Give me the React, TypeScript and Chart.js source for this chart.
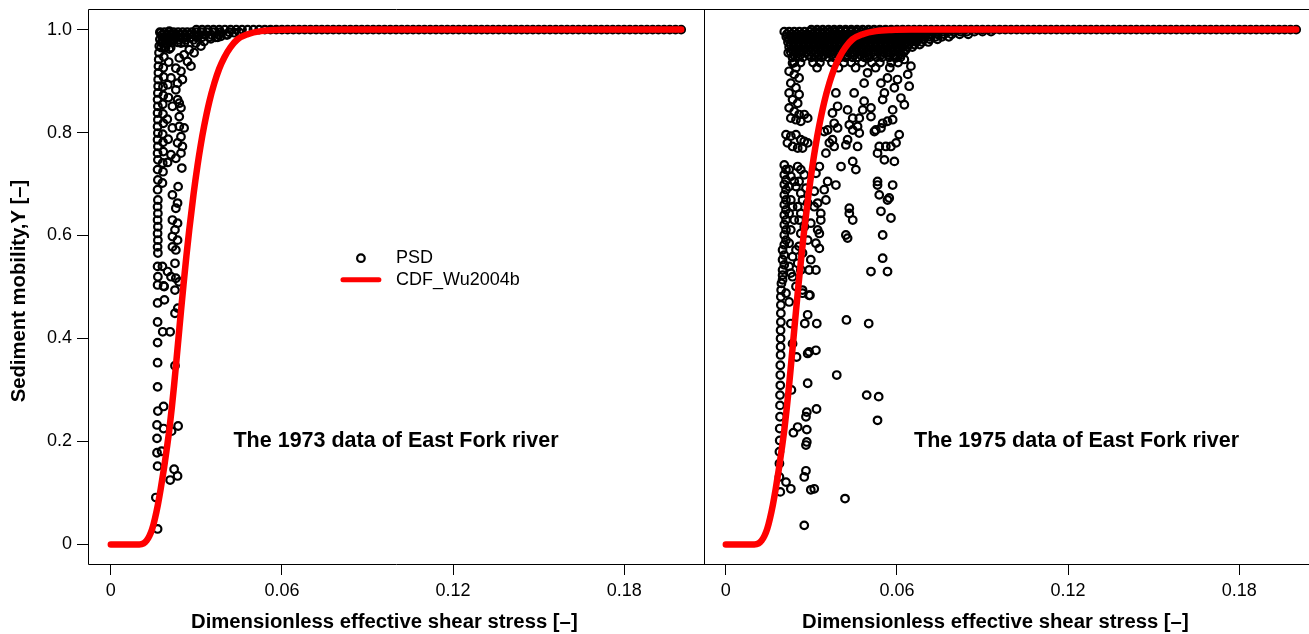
import React, { useEffect, useRef } from "react";
import { Chart, registerables } from "chart.js";

Chart.register(...registerables);

// ---------- axis / text ----------
const X_TICKS = [0, 0.06, 0.12, 0.18];
const Y_TICKS = [0, 0.2, 0.4, 0.6, 0.8, 1.0];
const X_RANGE = [-0.008, 0.208];
const Y_RANGE = [-0.04, 1.04];
const X_TITLE = "Dimensionless effective shear stress [–]";
const Y_TITLE = "Sediment mobility,Y [–]";
const LEGEND_LABELS = ["PSD", "CDF_Wu2004b"];
const PANEL_LABELS = ["The 1973 data of East Fork river", "The 1975 data of East Fork river"];

// ---------- CDF curve (same in both panels) ----------
const cdfX = [0, 0.005, 0.010, 0.0115, 0.0125, 0.0135, 0.0145, 0.0155, 0.0165, 0.0175, 0.0187, 0.0196, 0.0205, 0.0214, 0.0222, 0.0230, 0.0238, 0.0246, 0.0255, 0.0265, 0.0275, 0.0290, 0.0304, 0.0315, 0.0327, 0.0345, 0.0363, 0.0380, 0.0398, 0.0420, 0.0444, 0.0480, 0.0526, 0.0580, 0.0650, 0.0750, 0.0900, 0.1100, 0.1300, 0.1500, 0.1700, 0.1900, 0.2000];
const cdfY = [0, 0, 0, 0.002, 0.007, 0.016, 0.030, 0.051, 0.077, 0.108, 0.150, 0.185, 0.222, 0.266, 0.310, 0.357, 0.405, 0.453, 0.505, 0.560, 0.611, 0.680, 0.736, 0.775, 0.812, 0.859, 0.896, 0.924, 0.946, 0.966, 0.981, 0.991, 0.997, 0.9993, 1, 1, 1, 1, 1, 1, 1, 1, 1];

// ---------- PSD points sitting on Y = 1 (both panels) ----------
const plateauX = [0.030, 0.032, 0.034, 0.036, 0.038, 0.040, 0.042, 0.044, 0.046, 0.048, 0.050, 0.052, 0.054, 0.056, 0.058, 0.060, 0.062, 0.064, 0.066, 0.068, 0.070, 0.072, 0.074, 0.076, 0.078, 0.080, 0.082, 0.084, 0.086, 0.088, 0.090, 0.092, 0.094, 0.096, 0.098, 0.100, 0.102, 0.104, 0.106, 0.108, 0.110, 0.112, 0.114, 0.116, 0.118, 0.120, 0.122, 0.124, 0.126, 0.128, 0.130, 0.132, 0.134, 0.136, 0.138, 0.140, 0.142, 0.144, 0.146, 0.148, 0.150, 0.152, 0.154, 0.156, 0.158, 0.160, 0.162, 0.164, 0.166, 0.168, 0.170, 0.172, 0.174, 0.176, 0.178, 0.180, 0.182, 0.184, 0.186, 0.188, 0.190, 0.192, 0.194, 0.196, 0.198, 0.200];

// ---------- 1973 PSD ----------
const psd1973: [number, number][] = [
  [0.0164, 0.030], [0.0158, 0.091], [0.0164, 0.152], [0.0162, 0.178], [0.0162, 0.206], [0.0162, 0.232], [0.0165, 0.259], [0.0164, 0.306], [0.0164, 0.353], [0.0164, 0.392], [0.0164, 0.432], [0.0164, 0.469], [0.0164, 0.504],
  [0.0185, 0.268], [0.0185, 0.225], [0.0178, 0.181], [0.0182, 0.413], [0.0188, 0.475], [0.0185, 0.502],
  [0.0222, 0.146], [0.0234, 0.133], [0.0208, 0.125], [0.0236, 0.230], [0.0213, 0.220], [0.0225, 0.347], [0.0208, 0.413], [0.0225, 0.449], [0.0235, 0.459], [0.0225, 0.494], [0.0239, 0.510],
  [0.0165, 0.520], [0.0164, 0.540], [0.0165, 0.566], [0.0164, 0.578], [0.0165, 0.591], [0.0164, 0.604], [0.0165, 0.617], [0.0164, 0.630], [0.0165, 0.643], [0.0164, 0.656], [0.0165, 0.669], [0.0164, 0.689], [0.0165, 0.708], [0.0164, 0.728], [0.0165, 0.747], [0.0164, 0.760], [0.0165, 0.773], [0.0164, 0.786], [0.0165, 0.799], [0.0164, 0.812], [0.0165, 0.825], [0.0164, 0.838], [0.0165, 0.851], [0.0164, 0.864], [0.0165, 0.877], [0.0166, 0.890], [0.0166, 0.903], [0.0167, 0.916], [0.0167, 0.929], [0.0168, 0.942], [0.0169, 0.955], [0.0170, 0.968], [0.0172, 0.981], [0.0175, 0.994],
  [0.0181, 0.702], [0.0183, 0.724], [0.0182, 0.741], [0.0184, 0.763], [0.0183, 0.781], [0.0182, 0.797], [0.0184, 0.818], [0.0183, 0.836], [0.0182, 0.855], [0.0184, 0.872], [0.0183, 0.889], [0.0185, 0.908], [0.0184, 0.926], [0.0186, 0.947], [0.0188, 0.965], [0.0190, 0.983],
  [0.0199, 0.742], [0.0201, 0.787], [0.0198, 0.826], [0.0202, 0.868], [0.0200, 0.893], [0.0203, 0.937], [0.0205, 0.962], [0.0208, 0.980],
  [0.0236, 0.695], [0.0216, 0.679], [0.0234, 0.663], [0.0228, 0.653], [0.0216, 0.630], [0.0234, 0.624], [0.0225, 0.611], [0.0216, 0.598], [0.0234, 0.591], [0.0216, 0.578], [0.0228, 0.572], [0.0225, 0.546], [0.0181, 0.540], [0.0199, 0.530], [0.0211, 0.520], [0.0228, 0.517], [0.0187, 0.501],
  [0.0249, 0.731], [0.0228, 0.750], [0.0246, 0.760], [0.0211, 0.757], [0.0251, 0.773], [0.0234, 0.780], [0.0246, 0.792], [0.0257, 0.809], [0.0240, 0.812], [0.0216, 0.809], [0.0240, 0.831], [0.0246, 0.848], [0.0240, 0.857], [0.0216, 0.851], [0.0234, 0.864], [0.0228, 0.883], [0.0234, 0.896], [0.0211, 0.906], [0.0251, 0.903], [0.0246, 0.919], [0.0228, 0.925], [0.0281, 0.929], [0.0269, 0.938], [0.0240, 0.945], [0.0257, 0.951], [0.0292, 0.955], [0.0275, 0.961], [0.0316, 0.968], [0.0298, 0.974], [0.0327, 0.977], [0.0351, 0.982], [0.0368, 0.985], [0.0386, 0.987], [0.0409, 0.990], [0.0433, 0.994], [0.0246, 0.974], [0.0222, 0.987], [0.0205, 0.997],
];
const dense1973Rows = [
  { y: 0.995, x: [0.0172, 0.0188, 0.0204, 0.0220, 0.0236, 0.0252, 0.0268, 0.0284, 0.0300, 0.0318, 0.0338, 0.0360, 0.0385, 0.0415, 0.0450] },
  { y: 0.990, x: [0.0180, 0.0196, 0.0212, 0.0228, 0.0244, 0.0260, 0.0276, 0.0292, 0.0310, 0.0330, 0.0352, 0.0378, 0.0405] },
  { y: 0.985, x: [0.0180, 0.0196, 0.0212, 0.0228, 0.0244, 0.0262, 0.0280, 0.0300, 0.0320, 0.0345, 0.0375] },
  { y: 0.980, x: [0.0182, 0.0200, 0.0220, 0.0240, 0.0262, 0.0290] },
  { y: 0.975, x: [0.0178, 0.0195, 0.0215, 0.0235, 0.0258] },
  { y: 0.965, x: [0.0176, 0.0192, 0.0210] },
];

// ---------- 1975 PSD ----------
const psd1975: [number, number][] = [
  [0.0195, 0.507], [0.0194, 0.494], [0.0193, 0.481], [0.0193, 0.465], [0.0193, 0.449], [0.0193, 0.432], [0.0192, 0.416], [0.0192, 0.400], [0.0192, 0.384], [0.0192, 0.368], [0.0191, 0.348], [0.0191, 0.329], [0.0191, 0.309], [0.0190, 0.290], [0.0190, 0.270], [0.0190, 0.248], [0.0189, 0.225], [0.0189, 0.202], [0.0188, 0.180], [0.0188, 0.157], [0.0188, 0.131], [0.0191, 0.102],
  [0.0211, 0.488], [0.0222, 0.471], [0.0269, 0.488], [0.0295, 0.484], [0.0287, 0.446], [0.0277, 0.429], [0.0319, 0.429], [0.0228, 0.429], [0.0423, 0.436], [0.0501, 0.429], [0.0316, 0.377], [0.0287, 0.371], [0.0292, 0.374], [0.0248, 0.364], [0.0234, 0.390], [0.0389, 0.329], [0.0287, 0.313], [0.0230, 0.300], [0.0494, 0.290], [0.0536, 0.287], [0.0318, 0.263], [0.0284, 0.257], [0.0281, 0.248], [0.0532, 0.241], [0.0252, 0.228], [0.0237, 0.217], [0.0284, 0.223], [0.0284, 0.199], [0.0281, 0.193], [0.0281, 0.143], [0.0275, 0.131], [0.0211, 0.121], [0.0228, 0.108], [0.0298, 0.106], [0.0310, 0.108], [0.0418, 0.089], [0.0275, 0.037],
  [0.0219, 0.955], [0.0234, 0.935], [0.0222, 0.919], [0.0240, 0.913], [0.0257, 0.906], [0.0228, 0.896], [0.0246, 0.887], [0.0222, 0.877], [0.0257, 0.874], [0.0234, 0.864], [0.0252, 0.857], [0.0222, 0.848], [0.0240, 0.841], [0.0257, 0.835], [0.0228, 0.828], [0.0246, 0.825], [0.0263, 0.822], [0.0287, 0.828], [0.0275, 0.835],
  [0.0211, 0.796], [0.0228, 0.793], [0.0246, 0.796], [0.0263, 0.786], [0.0216, 0.780], [0.0234, 0.773], [0.0252, 0.770], [0.0275, 0.783], [0.0269, 0.770], [0.0287, 0.780],
  [0.0205, 0.737], [0.0211, 0.728], [0.0205, 0.718], [0.0211, 0.708], [0.0205, 0.699], [0.0211, 0.689], [0.0205, 0.679], [0.0211, 0.669], [0.0205, 0.660], [0.0211, 0.650], [0.0205, 0.640], [0.0211, 0.630], [0.0205, 0.621], [0.0211, 0.611], [0.0205, 0.601], [0.0211, 0.591], [0.0205, 0.582], [0.0199, 0.572], [0.0205, 0.562], [0.0199, 0.553], [0.0205, 0.543], [0.0199, 0.533], [0.0199, 0.523], [0.0199, 0.514],
  [0.0222, 0.728], [0.0228, 0.715], [0.0222, 0.695], [0.0240, 0.705], [0.0228, 0.669], [0.0234, 0.656], [0.0222, 0.643], [0.0240, 0.630], [0.0228, 0.611], [0.0222, 0.585], [0.0246, 0.572], [0.0234, 0.559], [0.0222, 0.540], [0.0234, 0.520], [0.0246, 0.501],
  [0.0252, 0.734], [0.0263, 0.728], [0.0275, 0.718], [0.0257, 0.705], [0.0246, 0.695], [0.0263, 0.682], [0.0281, 0.692], [0.0269, 0.669], [0.0252, 0.656], [0.0263, 0.643], [0.0287, 0.663], [0.0257, 0.630], [0.0275, 0.617], [0.0263, 0.604], [0.0287, 0.591], [0.0257, 0.579], [0.0269, 0.566], [0.0252, 0.546], [0.0263, 0.533], [0.0228, 0.527], [0.0269, 0.494], [0.0292, 0.484],
  [0.0316, 0.721], [0.0328, 0.734], [0.0357, 0.705], [0.0345, 0.689], [0.0351, 0.669], [0.0333, 0.643], [0.0322, 0.663], [0.0310, 0.656], [0.0322, 0.611], [0.0328, 0.604], [0.0298, 0.624], [0.0316, 0.585], [0.0328, 0.575], [0.0298, 0.553], [0.0292, 0.533], [0.0316, 0.533], [0.0333, 0.630], [0.0310, 0.686],
  [0.0386, 0.877], [0.0392, 0.851], [0.0374, 0.838], [0.0380, 0.818], [0.0392, 0.809], [0.0357, 0.805], [0.0374, 0.786], [0.0363, 0.780], [0.0380, 0.773], [0.0351, 0.760], [0.0345, 0.802], [0.0404, 0.734], [0.0386, 0.698],
  [0.0450, 0.877], [0.0427, 0.844], [0.0445, 0.828], [0.0468, 0.828], [0.0433, 0.815], [0.0462, 0.812], [0.0480, 0.844], [0.0485, 0.861], [0.0509, 0.848], [0.0509, 0.831], [0.0445, 0.805], [0.0468, 0.799], [0.0427, 0.786], [0.0421, 0.776], [0.0462, 0.773], [0.0445, 0.744], [0.0456, 0.728], [0.0485, 0.896], [0.0497, 0.916], [0.0521, 0.802],
  [0.0526, 0.805], [0.0544, 0.809], [0.0538, 0.773], [0.0561, 0.773], [0.0532, 0.760], [0.0556, 0.747], [0.0591, 0.744], [0.0579, 0.773], [0.0597, 0.780], [0.0608, 0.796], [0.0567, 0.822], [0.0585, 0.825], [0.0550, 0.818], [0.0585, 0.844], [0.0550, 0.864], [0.0556, 0.877], [0.0591, 0.887], [0.0544, 0.896], [0.0567, 0.906], [0.0602, 0.903], [0.0614, 0.867], [0.0626, 0.854], [0.0643, 0.890], [0.0638, 0.913], [0.0649, 0.929], [0.0626, 0.942], [0.0597, 0.945], [0.0567, 0.955], [0.0550, 0.961],
  [0.0532, 0.705], [0.0532, 0.698], [0.0585, 0.698], [0.0538, 0.679], [0.0567, 0.669], [0.0573, 0.673], [0.0544, 0.647], [0.0579, 0.634], [0.0550, 0.601], [0.0550, 0.556], [0.0509, 0.530], [0.0567, 0.530],
  [0.0433, 0.653], [0.0433, 0.643], [0.0445, 0.630], [0.0421, 0.601], [0.0427, 0.595],
];
const dense1975Rows = [
  { y: 0.996, x: [0.0205, 0.0222, 0.0240, 0.0258, 0.0276, 0.0294, 0.0312, 0.0330, 0.0348, 0.0366, 0.0384, 0.0402, 0.0420, 0.0438, 0.0456, 0.0474, 0.0492, 0.0510, 0.0528, 0.0546, 0.0564, 0.0582, 0.0600, 0.0618, 0.0636, 0.0654, 0.0672, 0.0690, 0.0708, 0.0726, 0.0744, 0.0762, 0.0780, 0.0800, 0.0822, 0.0846, 0.0872, 0.0900, 0.0930] },
  { y: 0.991, x: [0.0214, 0.0232, 0.0250, 0.0268, 0.0286, 0.0304, 0.0322, 0.0340, 0.0358, 0.0376, 0.0394, 0.0412, 0.0430, 0.0448, 0.0466, 0.0484, 0.0502, 0.0520, 0.0538, 0.0556, 0.0574, 0.0592, 0.0610, 0.0628, 0.0646, 0.0664, 0.0682, 0.0700, 0.0720, 0.0742, 0.0766, 0.0792, 0.0820, 0.0850] },
  { y: 0.986, x: [0.0212, 0.0230, 0.0248, 0.0266, 0.0284, 0.0302, 0.0320, 0.0338, 0.0356, 0.0374, 0.0392, 0.0410, 0.0428, 0.0446, 0.0464, 0.0482, 0.0500, 0.0518, 0.0536, 0.0554, 0.0572, 0.0590, 0.0608, 0.0626, 0.0644, 0.0662, 0.0680, 0.0698, 0.0716, 0.0736, 0.0758, 0.0782] },
  { y: 0.981, x: [0.0221, 0.0239, 0.0257, 0.0275, 0.0293, 0.0311, 0.0329, 0.0347, 0.0365, 0.0383, 0.0401, 0.0419, 0.0437, 0.0455, 0.0473, 0.0491, 0.0509, 0.0527, 0.0545, 0.0563, 0.0581, 0.0599, 0.0617, 0.0635, 0.0653, 0.0671, 0.0692, 0.0716, 0.0742] },
  { y: 0.976, x: [0.0218, 0.0236, 0.0254, 0.0272, 0.0290, 0.0308, 0.0326, 0.0344, 0.0362, 0.0380, 0.0398, 0.0416, 0.0434, 0.0452, 0.0470, 0.0488, 0.0506, 0.0524, 0.0542, 0.0560, 0.0578, 0.0596, 0.0614, 0.0632, 0.0650, 0.0668, 0.0688, 0.0710] },
  { y: 0.971, x: [0.0227, 0.0245, 0.0263, 0.0281, 0.0299, 0.0317, 0.0335, 0.0353, 0.0371, 0.0389, 0.0407, 0.0425, 0.0443, 0.0461, 0.0479, 0.0497, 0.0515, 0.0533, 0.0551, 0.0569, 0.0587, 0.0605, 0.0623, 0.0641, 0.0661, 0.0680] },
  { y: 0.966, x: [0.0222, 0.0240, 0.0258, 0.0276, 0.0294, 0.0312, 0.0330, 0.0348, 0.0366, 0.0384, 0.0402, 0.0420, 0.0438, 0.0456, 0.0474, 0.0492, 0.0510, 0.0528, 0.0546, 0.0564, 0.0582, 0.0600, 0.0618, 0.0636, 0.0654] },
  { y: 0.961, x: [0.0233, 0.0251, 0.0269, 0.0287, 0.0305, 0.0323, 0.0341, 0.0359, 0.0377, 0.0395, 0.0413, 0.0431, 0.0449, 0.0467, 0.0485, 0.0503, 0.0521, 0.0539, 0.0557, 0.0575, 0.0593, 0.0611, 0.0631] },
  { y: 0.956, x: [0.0228, 0.0246, 0.0264, 0.0282, 0.0300, 0.0318, 0.0336, 0.0354, 0.0372, 0.0390, 0.0408, 0.0426, 0.0444, 0.0462, 0.0480, 0.0498, 0.0516, 0.0534, 0.0552, 0.0570, 0.0588, 0.0606, 0.0624] },
  { y: 0.951, x: [0.0238, 0.0262, 0.0290, 0.0325, 0.0345, 0.0370, 0.0396, 0.0425, 0.0450, 0.0472, 0.0498, 0.0520, 0.0545, 0.0568, 0.0590, 0.0615] },
  { y: 0.946, x: [0.0234, 0.0252, 0.0270, 0.0300, 0.0318, 0.0336, 0.0360, 0.0378, 0.0402, 0.0420, 0.0444, 0.0462, 0.0486, 0.0504, 0.0530, 0.0548, 0.0574, 0.0592, 0.0612] },
  { y: 0.936, x: [0.0240, 0.0262, 0.0306, 0.0330, 0.0372, 0.0414, 0.0440, 0.0478, 0.0512, 0.0540, 0.0580, 0.0604] },
  { y: 0.926, x: [0.0246, 0.0320, 0.0395, 0.0455, 0.0525, 0.0575] },
];

const FONT = '"Liberation Sans", Arial, Helvetica, sans-serif';

type Row = { y: number; x: number[] };

function psdPoints(pairs: [number, number][], rows: Row[]) {
  const pts: { x: number; y: number }[] = [];
  plateauX.forEach((x) => pts.push({ x, y: 1 }));
  rows.forEach((r) => r.x.forEach((x) => pts.push({ x, y: r.y })));
  pairs.forEach(([x, y]) => pts.push({ x, y }));
  return pts;
}

type PanelCfg = {
  psd: { x: number; y: number }[];
  showY: boolean;
  label: string;
  labelAt: [number, number];
  titleAtX: number;
  legend: boolean;
  padRight: number;
};

function makeChart(canvas: HTMLCanvasElement, cfg: PanelCfg) {
  const decor = {
    id: "decor",
    afterDraw(chart: any) {
      const { ctx, chartArea: a, scales } = chart;
      const xs = scales.x;
      const ys = scales.y;
      ctx.save();
      ctx.strokeStyle = "#000";
      ctx.lineWidth = 1;
      ctx.beginPath();
      if (cfg.showY) {
        ctx.rect(a.left + 0.5, a.top + 0.5, a.right - a.left, a.bottom - a.top - 1);
      } else {
        ctx.moveTo(a.left, a.top + 0.5);
        ctx.lineTo(a.right, a.top + 0.5);
        ctx.moveTo(a.left, a.bottom - 0.5);
        ctx.lineTo(a.right, a.bottom - 0.5);
      }
      ctx.stroke();

      ctx.fillStyle = "#000";
      ctx.textAlign = "center";
      ctx.textBaseline = "middle";
      ctx.font = `bold 21.5px ${FONT}`;
      ctx.fillText(cfg.label, xs.getPixelForValue(cfg.labelAt[0]), ys.getPixelForValue(cfg.labelAt[1]));

      ctx.font = `bold 20.3px ${FONT}`;
      ctx.fillText(X_TITLE, xs.getPixelForValue(cfg.titleAtX), 622);

      if (cfg.showY) {
        ctx.save();
        ctx.translate(19, (a.top + a.bottom) / 2 + 4);
        ctx.rotate(-Math.PI / 2);
        ctx.fillText(Y_TITLE, 0, 0);
        ctx.restore();
      }

      if (cfg.legend) {
        const sx = xs.getPixelForValue(0.0877);
        const sy1 = ys.getPixelForValue(0.556);
        const sy2 = ys.getPixelForValue(0.514);
        const tx = xs.getPixelForValue(0.1);
        ctx.beginPath();
        ctx.lineWidth = 2.2;
        ctx.arc(sx, sy1, 3.8, 0, Math.PI * 2);
        ctx.stroke();
        ctx.beginPath();
        ctx.strokeStyle = "#ff0000";
        ctx.lineWidth = 5;
        ctx.lineCap = "round";
        ctx.moveTo(xs.getPixelForValue(0.0814), sy2);
        ctx.lineTo(xs.getPixelForValue(0.094), sy2);
        ctx.stroke();
        ctx.font = `18px ${FONT}`;
        ctx.textAlign = "left";
        ctx.fillText(LEGEND_LABELS[0], tx, sy1);
        ctx.fillText(LEGEND_LABELS[1], tx, sy2);
      }
      ctx.restore();
    },
  };

  return new Chart(canvas, {
    type: "scatter",
    data: {
      datasets: [
        {
          label: LEGEND_LABELS[1],
          type: "line",
          data: cdfX.map((x, i) => ({ x, y: cdfY[i] })),
          borderColor: "#ff0000",
          borderWidth: 6.5,
          borderCapStyle: "round",
          borderJoinStyle: "round",
          pointRadius: 0,
          fill: false,
          cubicInterpolationMode: "monotone",
          order: 0,
        } as any,
        {
          label: LEGEND_LABELS[0],
          data: cfg.psd,
          pointStyle: "circle",
          pointRadius: 3.8,
          pointBorderWidth: 2.2,
          pointBorderColor: "#000",
          pointBackgroundColor: "rgba(0,0,0,0)",
          order: 1,
        } as any,
      ],
    },
    options: {
      responsive: false,
      animation: false,
      devicePixelRatio: 1,
      events: [],
      layout: { autoPadding: false, padding: { top: 9, left: 0, right: cfg.padRight, bottom: 0 } },
      plugins: { legend: { display: false }, tooltip: { enabled: false } },
      scales: {
        x: {
          type: "linear",
          min: X_RANGE[0],
          max: X_RANGE[1],
          afterBuildTicks: (s: any) => {
            s.ticks = X_TICKS.map((v) => ({ value: v }));
          },
          afterFit: (s: any) => {
            s.height = 69;
            s.paddingLeft = 0;
            s.paddingRight = 0;
          },
          grid: { drawOnChartArea: false, drawTicks: true, tickLength: 10, color: "#000", lineWidth: 1 },
          border: { display: false },
          ticks: {
            color: "#000",
            font: { family: FONT, size: 18 },
            padding: 5,
            maxRotation: 0,
            autoSkip: false,
            callback: (v: any) => (v === 0 ? "0" : String(v)),
          },
        },
        y: {
          type: "linear",
          display: cfg.showY,
          min: Y_RANGE[0],
          max: Y_RANGE[1],
          afterBuildTicks: (s: any) => {
            s.ticks = Y_TICKS.map((v) => ({ value: v }));
          },
          afterFit: (s: any) => {
            s.width = cfg.showY ? 88 : 0;
            s.paddingTop = 0;
            s.paddingBottom = 0;
          },
          grid: { drawOnChartArea: false, drawTicks: true, tickLength: 11, color: "#000", lineWidth: 1 },
          border: { display: false },
          ticks: {
            color: "#000",
            font: { family: FONT, size: 18 },
            padding: 5,
            autoSkip: false,
            callback: (v: any) => (v === 0 ? "0" : Number(v).toFixed(1)),
          },
        },
      },
    } as any,
    plugins: [decor],
  });
}

export default function App() {
  const leftRef = useRef<HTMLCanvasElement>(null);
  const rightRef = useRef<HTMLCanvasElement>(null);

  useEffect(() => {
    const c1 = makeChart(leftRef.current!, {
      psd: psdPoints(psd1973, dense1973Rows),
      showY: true,
      label: PANEL_LABELS[0],
      labelAt: [0.1, 0.2],
      titleAtX: 0.0959,
      legend: true,
      padRight: 2,
    });
    const c2 = makeChart(rightRef.current!, {
      psd: psdPoints(psd1975, dense1975Rows),
      showY: false,
      label: PANEL_LABELS[1],
      labelAt: [0.123, 0.2],
      titleAtX: 0.0945,
      legend: false,
      padRight: 6,
    });
    return () => {
      c1.destroy();
      c2.destroy();
    };
  }, []);

  return (
    <div style={{ position: "fixed", left: 0, top: 0, width: 1309, height: 634, overflow: "hidden", background: "#fff" }}>
      <canvas ref={leftRef} width={706} height={634} style={{ position: "absolute", left: 0, top: 0, width: 706, height: 634, display: "block" }} />
      <canvas ref={rightRef} width={622} height={634} style={{ position: "absolute", left: 703, top: 0, width: 622, height: 634, display: "block" }} />
    </div>
  );
}
